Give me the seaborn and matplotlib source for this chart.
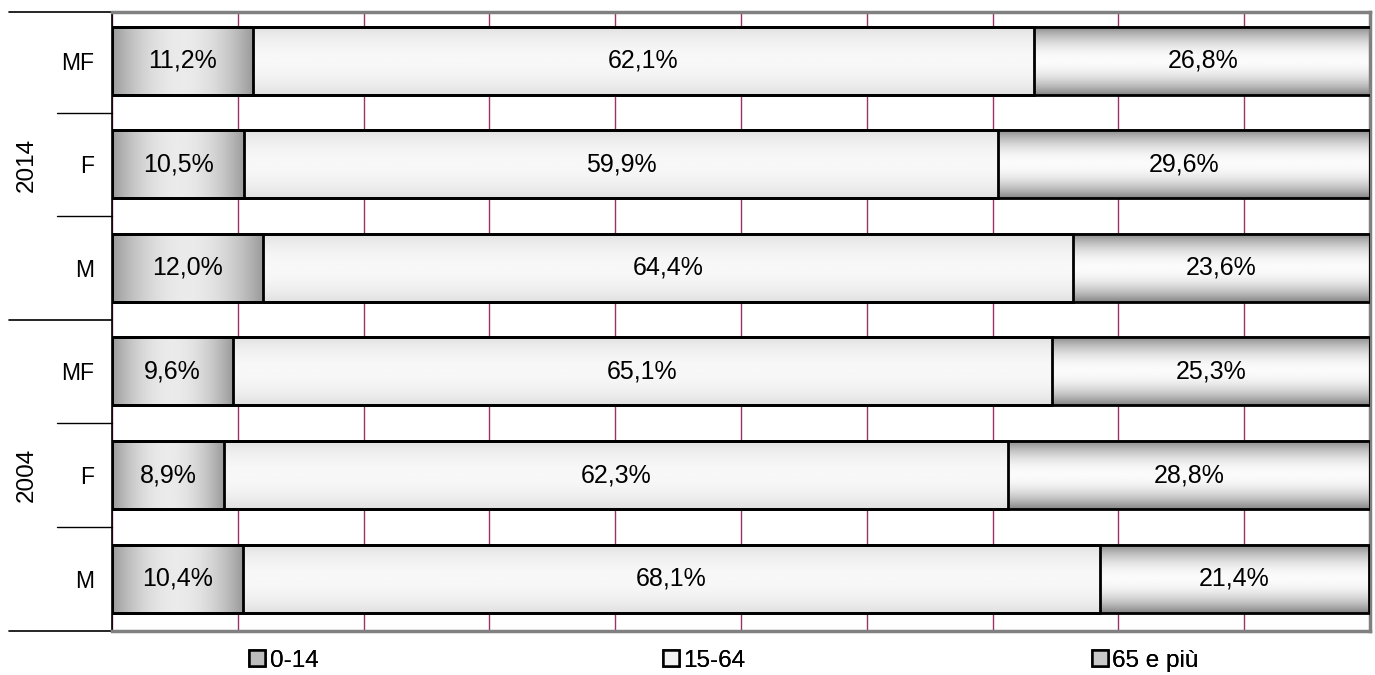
import numpy as np
import pandas as pd
import matplotlib.pyplot as plt
import matplotlib.transforms as mtransforms
from matplotlib.patches import Patch
from matplotlib.colors import LinearSegmentedColormap
import seaborn as sns

# data
years = ['2014', '2014', '2014', '2004', '2004', '2004']
sexes = ['MF', 'F', 'M', 'MF', 'F', 'M']
age_0_14 = [11.2, 10.5, 12.0, 9.6, 8.9, 10.4]
age_15_64 = [62.1, 59.9, 64.4, 65.1, 62.3, 68.1]
age_65_plus = [26.8, 29.6, 23.6, 25.3, 28.8, 21.4]
series_names = ['0-14', '15-64', '65 e più']

df = pd.DataFrame({'year': years, 'sex': sexes,
                   '0-14': age_0_14, '15-64': age_15_64, '65 e più': age_65_plus})
df['row'] = df['year'] + ' ' + df['sex']
df['c1'] = df['0-14']
df['c2'] = df['c1'] + df['15-64']
df['c3'] = df['c2'] + df['65 e più']

sns.set_theme(style='white')
plt.rcParams['font.family'] = ['Liberation Sans', 'DejaVu Sans']
plt.rcParams['text.color'] = 'black'
plt.rcParams['ytick.color'] = 'black'
plt.rcParams['ytick.labelcolor'] = 'black'

fig = plt.figure(figsize=(13.75, 6.75), dpi=100)
ax = fig.add_axes([0.0815, 0.0652, 0.9149, 0.917])

bar_h = 0.657
# outlines of stacked segments (cumulative, widest first)
for col in ['c3', 'c2', 'c1']:
    sns.barplot(data=df, x=col, y='row', orient='h', color='gray',
                edgecolor='black', linewidth=2, width=bar_h,
                errorbar=None, ax=ax)
for p in ax.patches:
    p.set_facecolor('none')
    p.set_zorder(3)

# gradient fills
t = np.linspace(0, 1, 200)
shape = 1 - (2 * t - 1) ** 2
cm_young = LinearSegmentedColormap.from_list('y', ['#9a9a9a', '#ebebeb'])
cm_work = LinearSegmentedColormap.from_list('w', ['#e0e0e0', '#f8f8f8'])
cm_old = LinearSegmentedColormap.from_list('o', ['#858585', '#fbfbfb'])
grad_h = shape[np.newaxis, :]
grad_v = shape[:, np.newaxis]

starts = [np.zeros(len(df)), df['c1'].values, df['c2'].values]
ends = [df['c1'].values, df['c2'].values, df['c3'].values]
grads = [(grad_h, cm_young), (grad_v, cm_work), (grad_v, cm_old)]
for j in range(3):
    g, cm = grads[j]
    for i in range(len(df)):
        ax.imshow(g, extent=(starts[j][i], ends[j][i], i + bar_h / 2, i - bar_h / 2),
                  aspect='auto', cmap=cm, vmin=0, vmax=1, zorder=2,
                  interpolation='bilinear')
        val = df[series_names[j]].iloc[i]
        ax.text((starts[j][i] + ends[j][i]) / 2, i, f'{val:.1f}%'.replace('.', ','),
                ha='center', va='center', fontsize=18, color='black', zorder=4)

ax.set_xlim(0, 100)
ax.set_ylim(5.507, -0.473)
ax.set_xticks(range(0, 101, 10))
ax.set_xticklabels([])
ax.tick_params(axis='x', length=0)
ax.grid(axis='x', color='#993366', linewidth=1)
ax.grid(axis='y', visible=False)
ax.set_axisbelow(True)
ax.set_yticks(range(len(df)))
ax.set_yticklabels(sexes, fontsize=16.5, color='black')
ax.tick_params(axis='y', length=0, pad=13)
ax.set_xlabel('')
ax.set_ylabel('')

for s in ['top', 'right', 'bottom']:
    ax.spines[s].set_color('#808080')
    ax.spines[s].set_linewidth(2.5)
ax.spines['left'].set_color('black')
ax.spines['left'].set_linewidth(1.2)

# category separators on the left
trans = mtransforms.blended_transform_factory(ax.transAxes, ax.transData)
for yb in [0.5, 1.5, 3.5, 4.5]:
    ax.plot([-0.0437, 0], [yb, yb], color='black', lw=1, transform=trans, clip_on=False)
for yb in [-0.473, 2.5, 5.507]:
    ax.plot([-0.082, 0], [yb, yb], color='black', lw=1.2, transform=trans, clip_on=False)
ax.text(-0.0676, 1.0, '2014', rotation=90, ha='center', va='center', fontsize=17.5,
        transform=trans)
ax.text(-0.0676, 4.0, '2004', rotation=90, ha='center', va='center', fontsize=17.5,
        transform=trans)

# legend entries spread along the bottom
leg_colors = ['#bdbdbd', '#f2f2f2', '#c8c8c8']
leg_x = [0.181, 0.482, 0.794]
for name, c, lx in zip(series_names, leg_colors, leg_x):
    lg = fig.legend(handles=[Patch(facecolor=c, edgecolor='black', linewidth=1.8)],
                    labels=[name], loc='center left', bbox_to_anchor=(lx, 0.021),
                    frameon=False, fontsize=17.5, handlelength=0.65, handleheight=0.65,
                    handletextpad=0.2, borderaxespad=0, borderpad=0)
    fig.add_artist(lg)

fig.savefig('out.png', dpi=100)
